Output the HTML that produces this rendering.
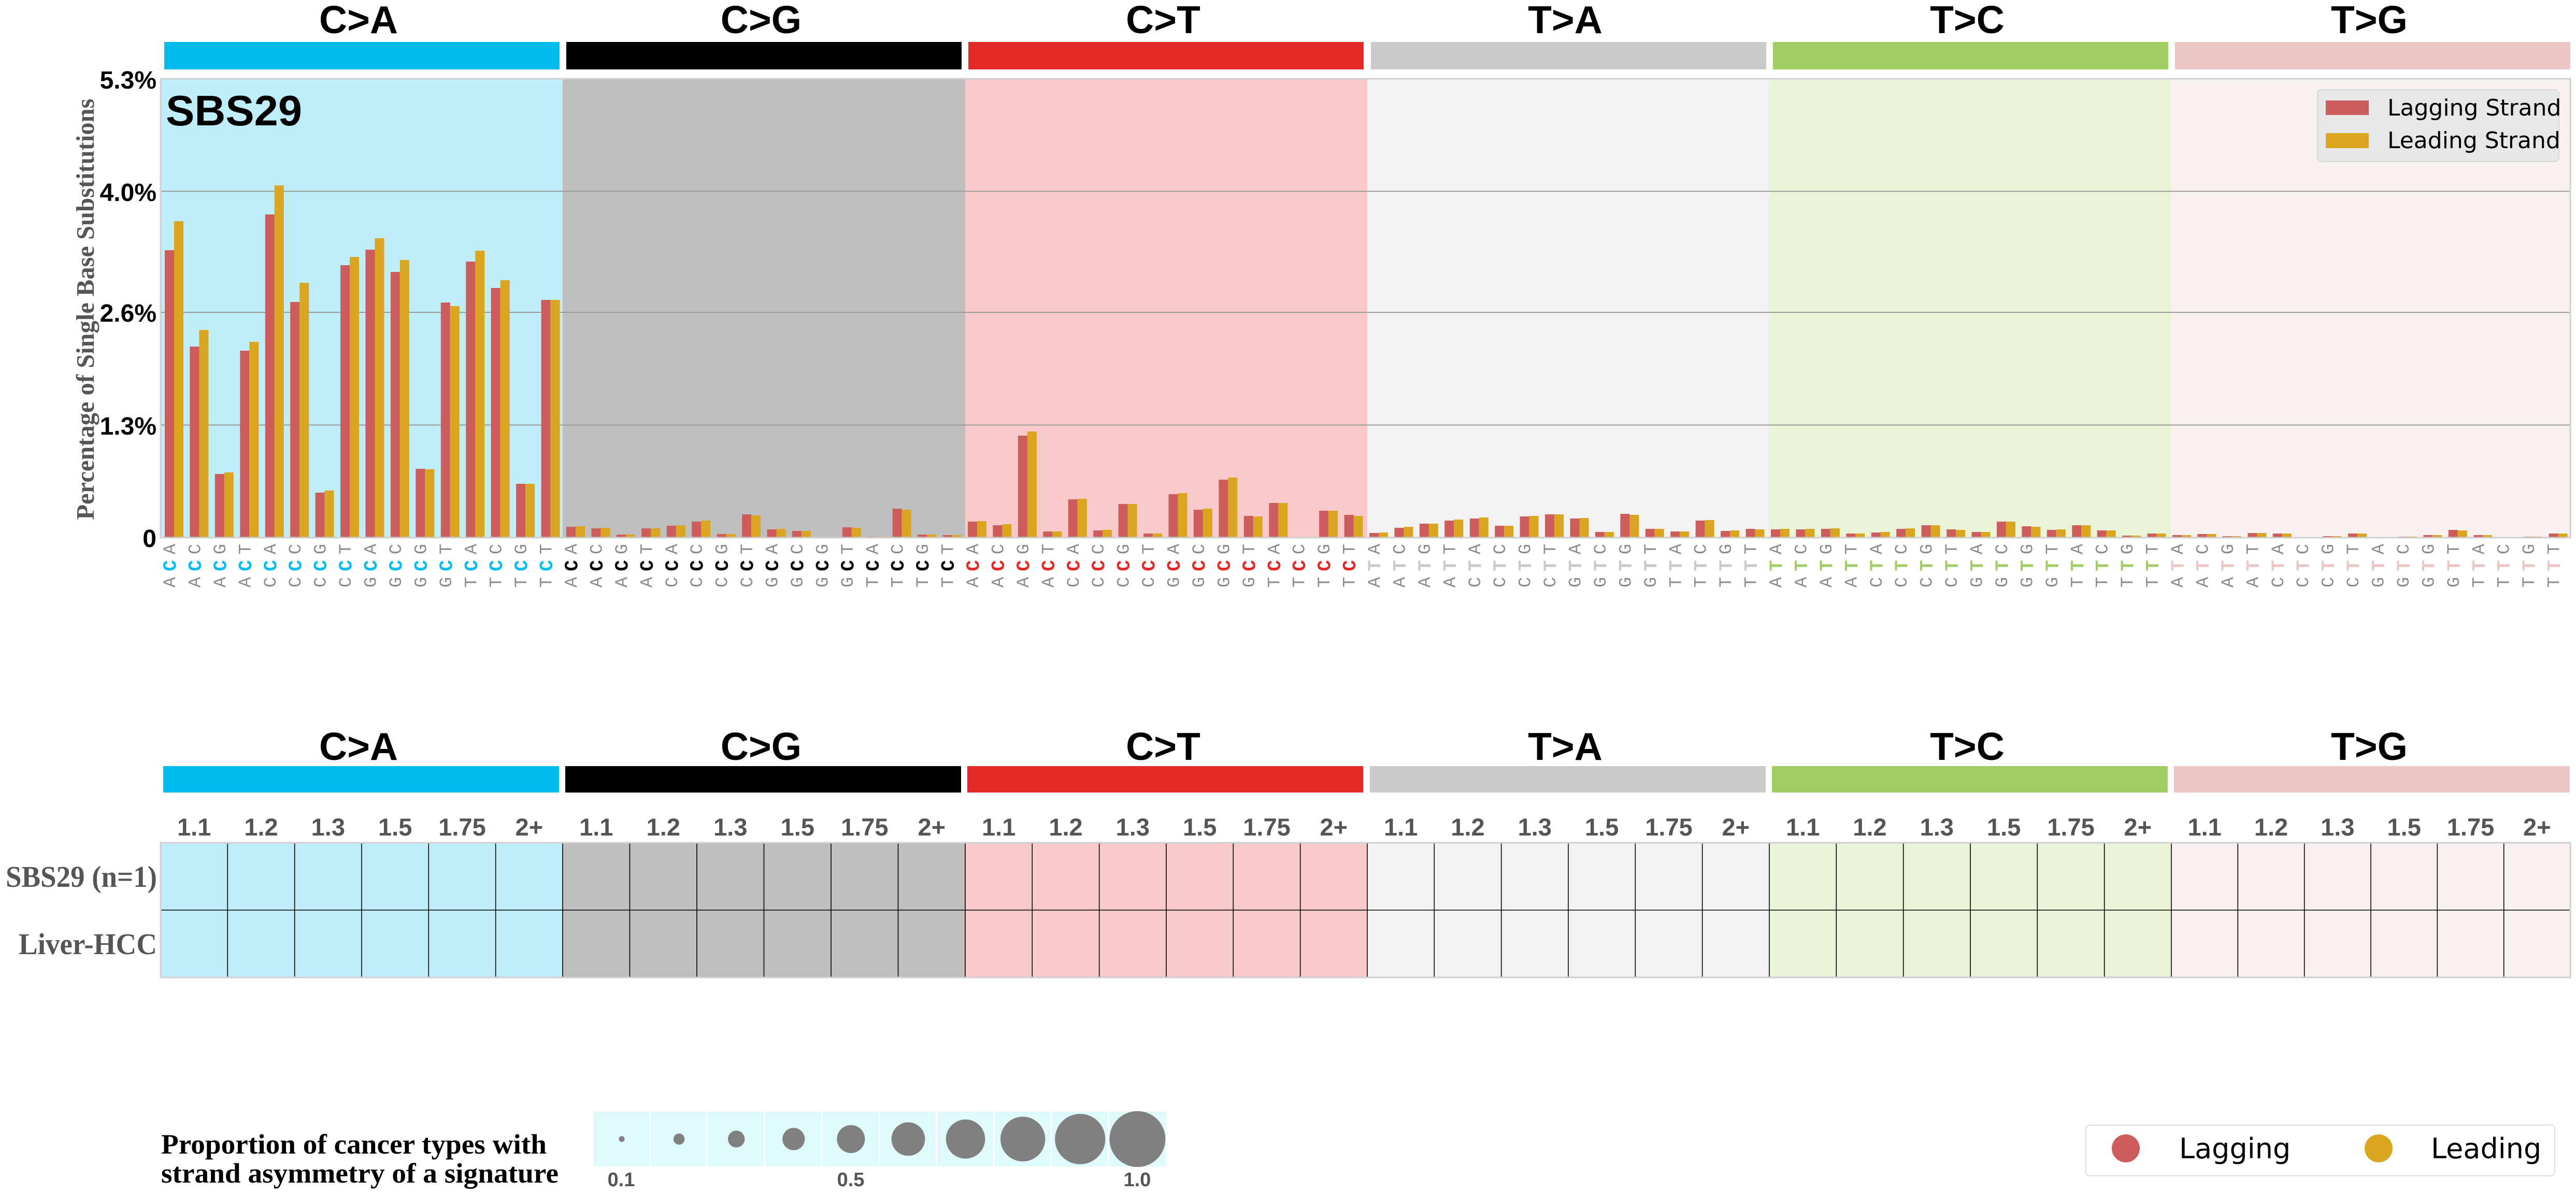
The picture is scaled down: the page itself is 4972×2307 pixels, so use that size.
<!DOCTYPE html>
<html><head><meta charset="utf-8"><style>
html,body{margin:0;padding:0;background:#fff;width:4972px;height:2307px;overflow:hidden}
svg{display:block}
.r{fill:#CD5C5C}.y{fill:#DAA520}
.o text{font-family:"Liberation Mono",monospace;font-size:34px;fill:#8c8c8c;text-anchor:middle;dominant-baseline:central}
.m text{font-family:"Liberation Mono",monospace;font-size:36px;font-weight:bold;text-anchor:middle;dominant-baseline:central}
.hd{font-family:"Liberation Sans",Arial,sans-serif;font-size:75px;font-weight:bold;fill:#000;text-anchor:middle}
.tk{font-family:"Liberation Sans",Arial,sans-serif;font-size:48px;font-weight:bold;fill:#000;text-anchor:end}
.nm{font-family:"Liberation Sans",Arial,sans-serif;font-size:47px;font-weight:bold;fill:#555;text-anchor:middle}
.dj{font-family:"DejaVu Sans",sans-serif;fill:#000}
.sf{font-family:"Liberation Serif","Times New Roman",serif;font-weight:bold}
.vl{stroke:#000;stroke-width:1.6}
</style></head><body>
<svg width="4972" height="2307" viewBox="0 0 4972 2307" xmlns="http://www.w3.org/2000/svg">
<rect x="0" y="0" width="4972" height="2307" fill="#fff"/>

<!-- top header labels and bars -->
<text class="hd" x="692" y="64">C&gt;A</text>
<text class="hd" x="1469" y="64">C&gt;G</text>
<text class="hd" x="2245" y="64">C&gt;T</text>
<text class="hd" x="3021" y="64">T&gt;A</text>
<text class="hd" x="3797" y="64">T&gt;C</text>
<text class="hd" x="4573" y="64">T&gt;G</text>
<rect x="317" y="81" width="763" height="53" fill="#03BCEE"/>
<rect x="1093" y="81" width="763" height="53" fill="#010101"/>
<rect x="1869" y="81" width="763" height="53" fill="#E32926"/>
<rect x="2646" y="81" width="763" height="53" fill="#CAC9C9"/>
<rect x="3422" y="81" width="763" height="53" fill="#A1CE63"/>
<rect x="4198" y="81" width="763" height="53" fill="#EBC6C4"/>

<!-- plot backgrounds -->
<rect x="310" y="152" width="776" height="885" fill="#BFEDF9"/>
<rect x="1086" y="152" width="777" height="885" fill="#BFBFBF"/>
<rect x="1863" y="152" width="776" height="885" fill="#F8C9C9"/>
<rect x="2639" y="152" width="776" height="885" fill="#F2F2F2"/>
<rect x="3415" y="152" width="776" height="885" fill="#E8F3D8"/>
<rect x="4191" y="152" width="770" height="885" fill="#F9F0F0"/>

<!-- gridlines -->
<line x1="310" y1="369.3" x2="4961" y2="369.3" stroke="#9a9a9a" stroke-width="2"/>
<line x1="310" y1="603" x2="4961" y2="603" stroke="#9a9a9a" stroke-width="2"/>
<line x1="310" y1="820.5" x2="4961" y2="820.5" stroke="#9a9a9a" stroke-width="2"/>

<!-- bars C>A -->
<g transform="translate(318,1037) scale(1,-1)">
<rect class="r" x="0" width="18" height="554"/><rect class="y" x="18" width="18" height="610"/>
<rect class="r" x="48.4" width="18" height="368"/><rect class="y" x="66.4" width="18" height="400"/>
<rect class="r" x="96.9" width="18" height="122"/><rect class="y" x="114.9" width="18" height="125"/>
<rect class="r" x="145.3" width="18" height="360"/><rect class="y" x="163.3" width="18" height="377"/>
<rect class="r" x="193.8" width="18" height="623"/><rect class="y" x="211.8" width="18" height="679"/>
<rect class="r" x="242.2" width="18" height="454"/><rect class="y" x="260.2" width="18" height="491"/>
<rect class="r" x="290.6" width="18" height="86"/><rect class="y" x="308.6" width="18" height="90"/>
<rect class="r" x="339.1" width="18" height="525"/><rect class="y" x="357.1" width="18" height="541"/>
<rect class="r" x="387.5" width="18" height="555"/><rect class="y" x="405.5" width="18" height="577"/>
<rect class="r" x="435.9" width="18" height="512"/><rect class="y" x="453.9" width="18" height="535"/>
<rect class="r" x="484.4" width="18" height="132"/><rect class="y" x="502.4" width="18" height="131"/>
<rect class="r" x="532.8" width="18" height="453"/><rect class="y" x="550.8" width="18" height="446"/>
<rect class="r" x="581.3" width="18" height="532"/><rect class="y" x="599.3" width="18" height="553"/>
<rect class="r" x="629.7" width="18" height="481"/><rect class="y" x="647.7" width="18" height="496"/>
<rect class="r" x="678.1" width="18" height="103"/><rect class="y" x="696.1" width="18" height="103"/>
<rect class="r" x="726.6" width="18" height="458"/><rect class="y" x="744.6" width="18" height="458"/>
</g>
<!-- bars C>G -->
<g transform="translate(1093,1037) scale(1,-1)">
<rect class="r" x="0" width="18" height="20"/><rect class="y" x="18" width="18" height="21"/>
<rect class="r" x="48.4" width="18" height="17"/><rect class="y" x="66.4" width="18" height="18"/>
<rect class="r" x="96.9" width="18" height="5"/><rect class="y" x="114.9" width="18" height="5"/>
<rect class="r" x="145.3" width="18" height="17"/><rect class="y" x="163.3" width="18" height="17"/>
<rect class="r" x="193.8" width="18" height="22"/><rect class="y" x="211.8" width="18" height="23"/>
<rect class="r" x="242.2" width="18" height="30"/><rect class="y" x="260.2" width="18" height="32"/>
<rect class="r" x="290.6" width="18" height="6"/><rect class="y" x="308.6" width="18" height="6"/>
<rect class="r" x="339.1" width="18" height="44"/><rect class="y" x="357.1" width="18" height="42"/>
<rect class="r" x="387.5" width="18" height="15"/><rect class="y" x="405.5" width="18" height="16"/>
<rect class="r" x="435.9" width="18" height="12"/><rect class="y" x="453.9" width="18" height="12"/>
<rect class="r" x="532.8" width="18" height="19"/><rect class="y" x="550.8" width="18" height="18"/>
<rect class="r" x="581.3" width="18" height="1"/><rect class="y" x="599.3" width="18" height="1"/>
<rect class="r" x="629.7" width="18" height="55"/><rect class="y" x="647.7" width="18" height="53"/>
<rect class="r" x="678.1" width="18" height="5"/><rect class="y" x="696.1" width="18" height="5"/>
<rect class="r" x="726.6" width="18" height="4"/><rect class="y" x="744.6" width="18" height="4"/>
</g>
<!-- bars C>T -->
<g transform="translate(1868,1037) scale(1,-1)">
<rect class="r" x="0" width="18" height="30"/><rect class="y" x="18" width="18" height="31"/>
<rect class="r" x="48.4" width="18" height="23"/><rect class="y" x="66.4" width="18" height="25"/>
<rect class="r" x="96.9" width="18" height="196"/><rect class="y" x="114.9" width="18" height="204"/>
<rect class="r" x="145.3" width="18" height="11"/><rect class="y" x="163.3" width="18" height="11"/>
<rect class="r" x="193.8" width="18" height="73"/><rect class="y" x="211.8" width="18" height="74"/>
<rect class="r" x="242.2" width="18" height="13"/><rect class="y" x="260.2" width="18" height="14"/>
<rect class="r" x="290.6" width="18" height="64"/><rect class="y" x="308.6" width="18" height="64"/>
<rect class="r" x="339.1" width="18" height="7"/><rect class="y" x="357.1" width="18" height="7"/>
<rect class="r" x="387.5" width="18" height="83"/><rect class="y" x="405.5" width="18" height="85"/>
<rect class="r" x="435.9" width="18" height="53"/><rect class="y" x="453.9" width="18" height="55"/>
<rect class="r" x="484.4" width="18" height="111"/><rect class="y" x="502.4" width="18" height="115"/>
<rect class="r" x="532.8" width="18" height="41"/><rect class="y" x="550.8" width="18" height="40"/>
<rect class="r" x="581.3" width="18" height="66"/><rect class="y" x="599.3" width="18" height="66"/>
<rect class="r" x="678.1" width="18" height="51"/><rect class="y" x="696.1" width="18" height="51"/>
<rect class="r" x="726.6" width="18" height="43"/><rect class="y" x="744.6" width="18" height="41"/>
</g>
<!-- bars T>A -->
<g transform="translate(2643,1037) scale(1,-1)">
<rect class="r" x="0" width="18" height="8"/><rect class="y" x="18" width="18" height="9"/>
<rect class="r" x="48.4" width="18" height="18"/><rect class="y" x="66.4" width="18" height="20"/>
<rect class="r" x="96.9" width="18" height="26"/><rect class="y" x="114.9" width="18" height="26"/>
<rect class="r" x="145.3" width="18" height="32"/><rect class="y" x="163.3" width="18" height="34"/>
<rect class="r" x="193.8" width="18" height="36"/><rect class="y" x="211.8" width="18" height="38"/>
<rect class="r" x="242.2" width="18" height="22"/><rect class="y" x="260.2" width="18" height="22"/>
<rect class="r" x="290.6" width="18" height="40"/><rect class="y" x="308.6" width="18" height="41"/>
<rect class="r" x="339.1" width="18" height="44"/><rect class="y" x="357.1" width="18" height="44"/>
<rect class="r" x="387.5" width="18" height="36"/><rect class="y" x="405.5" width="18" height="37"/>
<rect class="r" x="435.9" width="18" height="10"/><rect class="y" x="453.9" width="18" height="10"/>
<rect class="r" x="484.4" width="18" height="45"/><rect class="y" x="502.4" width="18" height="43"/>
<rect class="r" x="532.8" width="18" height="16"/><rect class="y" x="550.8" width="18" height="16"/>
<rect class="r" x="581.3" width="18" height="11"/><rect class="y" x="599.3" width="18" height="11"/>
<rect class="r" x="629.7" width="18" height="32"/><rect class="y" x="647.7" width="18" height="33"/>
<rect class="r" x="678.1" width="18" height="12"/><rect class="y" x="696.1" width="18" height="13"/>
<rect class="r" x="726.6" width="18" height="16"/><rect class="y" x="744.6" width="18" height="15"/>
</g>
<!-- bars T>C -->
<g transform="translate(3418,1037) scale(1,-1)">
<rect class="r" x="0" width="18" height="15"/><rect class="y" x="18" width="18" height="16"/>
<rect class="r" x="48.4" width="18" height="15"/><rect class="y" x="66.4" width="18" height="16"/>
<rect class="r" x="96.9" width="18" height="16"/><rect class="y" x="114.9" width="18" height="17"/>
<rect class="r" x="145.3" width="18" height="7"/><rect class="y" x="163.3" width="18" height="7"/>
<rect class="r" x="193.8" width="18" height="9"/><rect class="y" x="211.8" width="18" height="10"/>
<rect class="r" x="242.2" width="18" height="16"/><rect class="y" x="260.2" width="18" height="17"/>
<rect class="r" x="290.6" width="18" height="23"/><rect class="y" x="308.6" width="18" height="23"/>
<rect class="r" x="339.1" width="18" height="15"/><rect class="y" x="357.1" width="18" height="14"/>
<rect class="r" x="387.5" width="18" height="10"/><rect class="y" x="405.5" width="18" height="10"/>
<rect class="r" x="435.9" width="18" height="30"/><rect class="y" x="453.9" width="18" height="30"/>
<rect class="r" x="484.4" width="18" height="21"/><rect class="y" x="502.4" width="18" height="20"/>
<rect class="r" x="532.8" width="18" height="14"/><rect class="y" x="550.8" width="18" height="15"/>
<rect class="r" x="581.3" width="18" height="23"/><rect class="y" x="599.3" width="18" height="23"/>
<rect class="r" x="629.7" width="18" height="13"/><rect class="y" x="647.7" width="18" height="13"/>
<rect class="r" x="678.1" width="18" height="3"/><rect class="y" x="696.1" width="18" height="3"/>
<rect class="r" x="726.6" width="18" height="7"/><rect class="y" x="744.6" width="18" height="7"/>
</g>
<!-- bars T>G -->
<g transform="translate(4193,1037) scale(1,-1)">
<rect class="r" x="0" width="18" height="4"/><rect class="y" x="18" width="18" height="4"/>
<rect class="r" x="48.4" width="18" height="6"/><rect class="y" x="66.4" width="18" height="6"/>
<rect class="r" x="96.9" width="18" height="2"/><rect class="y" x="114.9" width="18" height="2"/>
<rect class="r" x="145.3" width="18" height="8"/><rect class="y" x="163.3" width="18" height="8"/>
<rect class="r" x="193.8" width="18" height="7"/><rect class="y" x="211.8" width="18" height="7"/>
<rect class="r" x="290.6" width="18" height="2"/><rect class="y" x="308.6" width="18" height="2"/>
<rect class="r" x="339.1" width="18" height="7"/><rect class="y" x="357.1" width="18" height="7"/>
<rect class="r" x="435.9" width="18" height="1"/><rect class="y" x="453.9" width="18" height="1"/>
<rect class="r" x="484.4" width="18" height="4"/><rect class="y" x="502.4" width="18" height="4"/>
<rect class="r" x="532.8" width="18" height="14"/><rect class="y" x="550.8" width="18" height="13"/>
<rect class="r" x="581.3" width="18" height="4"/><rect class="y" x="599.3" width="18" height="4"/>
<rect class="r" x="678.1" width="18" height="1"/><rect class="y" x="696.1" width="18" height="1"/>
<rect class="r" x="726.6" width="18" height="7"/><rect class="y" x="744.6" width="18" height="7"/>
</g>

<!-- plot border -->
<rect x="310" y="152" width="4651" height="886" fill="none" stroke="#cfcfcf" stroke-width="3"/>

<!-- SBS29 label -->
<text x="320" y="242" font-family="Liberation Sans, Arial, sans-serif" font-size="83" font-weight="bold" fill="#000">SBS29</text>

<!-- legend top right -->
<rect x="4473" y="173" width="466" height="139" rx="8" fill="#e8e7e7" stroke="#d8d8d8" stroke-width="2"/>
<rect x="4489" y="194" width="83" height="28" fill="#CD5C5C"/>
<rect x="4489" y="257" width="83" height="29" fill="#DAA520"/>
<text class="dj" x="4608" y="223" font-size="44">Lagging Strand</text>
<text class="dj" x="4608" y="286" font-size="44">Leading Strand</text>

<!-- y ticks -->
<text class="tk" x="302" y="171">5.3%</text>
<text class="tk" x="302" y="388">4.0%</text>
<text class="tk" x="302" y="621">2.6%</text>
<text class="tk" x="302" y="839">1.3%</text>
<text class="tk" x="302" y="1056">0</text>
<!-- y title -->
<text class="sf" transform="translate(181,597) rotate(-90)" text-anchor="middle" font-size="49" fill="#555" textLength="813" lengthAdjust="spacingAndGlyphs">Percentage of Single Base Substitutions</text>

<!-- x labels: top row = 3rd base, middle = mutated base, bottom = 1st base -->
<!-- C>A -->
<g class="o" transform="translate(318,1060)"><text transform="translate(12)rotate(-90)">A</text><text transform="translate(60.4)rotate(-90)">C</text><text transform="translate(108.9)rotate(-90)">G</text><text transform="translate(157.3)rotate(-90)">T</text><text transform="translate(205.8)rotate(-90)">A</text><text transform="translate(254.2)rotate(-90)">C</text><text transform="translate(302.6)rotate(-90)">G</text><text transform="translate(351.1)rotate(-90)">T</text><text transform="translate(399.5)rotate(-90)">A</text><text transform="translate(447.9)rotate(-90)">C</text><text transform="translate(496.4)rotate(-90)">G</text><text transform="translate(544.8)rotate(-90)">T</text><text transform="translate(593.3)rotate(-90)">A</text><text transform="translate(641.7)rotate(-90)">C</text><text transform="translate(690.1)rotate(-90)">G</text><text transform="translate(738.6)rotate(-90)">T</text></g>
<g class="m" fill="#03BCEE" transform="translate(318,1092)"><text transform="translate(12)rotate(-90)">C</text><text transform="translate(60.4)rotate(-90)">C</text><text transform="translate(108.9)rotate(-90)">C</text><text transform="translate(157.3)rotate(-90)">C</text><text transform="translate(205.8)rotate(-90)">C</text><text transform="translate(254.2)rotate(-90)">C</text><text transform="translate(302.6)rotate(-90)">C</text><text transform="translate(351.1)rotate(-90)">C</text><text transform="translate(399.5)rotate(-90)">C</text><text transform="translate(447.9)rotate(-90)">C</text><text transform="translate(496.4)rotate(-90)">C</text><text transform="translate(544.8)rotate(-90)">C</text><text transform="translate(593.3)rotate(-90)">C</text><text transform="translate(641.7)rotate(-90)">C</text><text transform="translate(690.1)rotate(-90)">C</text><text transform="translate(738.6)rotate(-90)">C</text></g>
<g class="o" transform="translate(318,1124)"><text transform="translate(12)rotate(-90)">A</text><text transform="translate(60.4)rotate(-90)">A</text><text transform="translate(108.9)rotate(-90)">A</text><text transform="translate(157.3)rotate(-90)">A</text><text transform="translate(205.8)rotate(-90)">C</text><text transform="translate(254.2)rotate(-90)">C</text><text transform="translate(302.6)rotate(-90)">C</text><text transform="translate(351.1)rotate(-90)">C</text><text transform="translate(399.5)rotate(-90)">G</text><text transform="translate(447.9)rotate(-90)">G</text><text transform="translate(496.4)rotate(-90)">G</text><text transform="translate(544.8)rotate(-90)">G</text><text transform="translate(593.3)rotate(-90)">T</text><text transform="translate(641.7)rotate(-90)">T</text><text transform="translate(690.1)rotate(-90)">T</text><text transform="translate(738.6)rotate(-90)">T</text></g>
<!-- C>G -->
<g class="o" transform="translate(1093,1060)"><text transform="translate(12)rotate(-90)">A</text><text transform="translate(60.4)rotate(-90)">C</text><text transform="translate(108.9)rotate(-90)">G</text><text transform="translate(157.3)rotate(-90)">T</text><text transform="translate(205.8)rotate(-90)">A</text><text transform="translate(254.2)rotate(-90)">C</text><text transform="translate(302.6)rotate(-90)">G</text><text transform="translate(351.1)rotate(-90)">T</text><text transform="translate(399.5)rotate(-90)">A</text><text transform="translate(447.9)rotate(-90)">C</text><text transform="translate(496.4)rotate(-90)">G</text><text transform="translate(544.8)rotate(-90)">T</text><text transform="translate(593.3)rotate(-90)">A</text><text transform="translate(641.7)rotate(-90)">C</text><text transform="translate(690.1)rotate(-90)">G</text><text transform="translate(738.6)rotate(-90)">T</text></g>
<g class="m" fill="#010101" transform="translate(1093,1092)"><text transform="translate(12)rotate(-90)">C</text><text transform="translate(60.4)rotate(-90)">C</text><text transform="translate(108.9)rotate(-90)">C</text><text transform="translate(157.3)rotate(-90)">C</text><text transform="translate(205.8)rotate(-90)">C</text><text transform="translate(254.2)rotate(-90)">C</text><text transform="translate(302.6)rotate(-90)">C</text><text transform="translate(351.1)rotate(-90)">C</text><text transform="translate(399.5)rotate(-90)">C</text><text transform="translate(447.9)rotate(-90)">C</text><text transform="translate(496.4)rotate(-90)">C</text><text transform="translate(544.8)rotate(-90)">C</text><text transform="translate(593.3)rotate(-90)">C</text><text transform="translate(641.7)rotate(-90)">C</text><text transform="translate(690.1)rotate(-90)">C</text><text transform="translate(738.6)rotate(-90)">C</text></g>
<g class="o" transform="translate(1093,1124)"><text transform="translate(12)rotate(-90)">A</text><text transform="translate(60.4)rotate(-90)">A</text><text transform="translate(108.9)rotate(-90)">A</text><text transform="translate(157.3)rotate(-90)">A</text><text transform="translate(205.8)rotate(-90)">C</text><text transform="translate(254.2)rotate(-90)">C</text><text transform="translate(302.6)rotate(-90)">C</text><text transform="translate(351.1)rotate(-90)">C</text><text transform="translate(399.5)rotate(-90)">G</text><text transform="translate(447.9)rotate(-90)">G</text><text transform="translate(496.4)rotate(-90)">G</text><text transform="translate(544.8)rotate(-90)">G</text><text transform="translate(593.3)rotate(-90)">T</text><text transform="translate(641.7)rotate(-90)">T</text><text transform="translate(690.1)rotate(-90)">T</text><text transform="translate(738.6)rotate(-90)">T</text></g>
<!-- C>T -->
<g class="o" transform="translate(1868,1060)"><text transform="translate(12)rotate(-90)">A</text><text transform="translate(60.4)rotate(-90)">C</text><text transform="translate(108.9)rotate(-90)">G</text><text transform="translate(157.3)rotate(-90)">T</text><text transform="translate(205.8)rotate(-90)">A</text><text transform="translate(254.2)rotate(-90)">C</text><text transform="translate(302.6)rotate(-90)">G</text><text transform="translate(351.1)rotate(-90)">T</text><text transform="translate(399.5)rotate(-90)">A</text><text transform="translate(447.9)rotate(-90)">C</text><text transform="translate(496.4)rotate(-90)">G</text><text transform="translate(544.8)rotate(-90)">T</text><text transform="translate(593.3)rotate(-90)">A</text><text transform="translate(641.7)rotate(-90)">C</text><text transform="translate(690.1)rotate(-90)">G</text><text transform="translate(738.6)rotate(-90)">T</text></g>
<g class="m" fill="#E32926" transform="translate(1868,1092)"><text transform="translate(12)rotate(-90)">C</text><text transform="translate(60.4)rotate(-90)">C</text><text transform="translate(108.9)rotate(-90)">C</text><text transform="translate(157.3)rotate(-90)">C</text><text transform="translate(205.8)rotate(-90)">C</text><text transform="translate(254.2)rotate(-90)">C</text><text transform="translate(302.6)rotate(-90)">C</text><text transform="translate(351.1)rotate(-90)">C</text><text transform="translate(399.5)rotate(-90)">C</text><text transform="translate(447.9)rotate(-90)">C</text><text transform="translate(496.4)rotate(-90)">C</text><text transform="translate(544.8)rotate(-90)">C</text><text transform="translate(593.3)rotate(-90)">C</text><text transform="translate(641.7)rotate(-90)">C</text><text transform="translate(690.1)rotate(-90)">C</text><text transform="translate(738.6)rotate(-90)">C</text></g>
<g class="o" transform="translate(1868,1124)"><text transform="translate(12)rotate(-90)">A</text><text transform="translate(60.4)rotate(-90)">A</text><text transform="translate(108.9)rotate(-90)">A</text><text transform="translate(157.3)rotate(-90)">A</text><text transform="translate(205.8)rotate(-90)">C</text><text transform="translate(254.2)rotate(-90)">C</text><text transform="translate(302.6)rotate(-90)">C</text><text transform="translate(351.1)rotate(-90)">C</text><text transform="translate(399.5)rotate(-90)">G</text><text transform="translate(447.9)rotate(-90)">G</text><text transform="translate(496.4)rotate(-90)">G</text><text transform="translate(544.8)rotate(-90)">G</text><text transform="translate(593.3)rotate(-90)">T</text><text transform="translate(641.7)rotate(-90)">T</text><text transform="translate(690.1)rotate(-90)">T</text><text transform="translate(738.6)rotate(-90)">T</text></g>
<!-- T>A -->
<g class="o" transform="translate(2643,1060)"><text transform="translate(12)rotate(-90)">A</text><text transform="translate(60.4)rotate(-90)">C</text><text transform="translate(108.9)rotate(-90)">G</text><text transform="translate(157.3)rotate(-90)">T</text><text transform="translate(205.8)rotate(-90)">A</text><text transform="translate(254.2)rotate(-90)">C</text><text transform="translate(302.6)rotate(-90)">G</text><text transform="translate(351.1)rotate(-90)">T</text><text transform="translate(399.5)rotate(-90)">A</text><text transform="translate(447.9)rotate(-90)">C</text><text transform="translate(496.4)rotate(-90)">G</text><text transform="translate(544.8)rotate(-90)">T</text><text transform="translate(593.3)rotate(-90)">A</text><text transform="translate(641.7)rotate(-90)">C</text><text transform="translate(690.1)rotate(-90)">G</text><text transform="translate(738.6)rotate(-90)">T</text></g>
<g class="m" fill="#CAC9C9" transform="translate(2643,1092)"><text transform="translate(12)rotate(-90)">T</text><text transform="translate(60.4)rotate(-90)">T</text><text transform="translate(108.9)rotate(-90)">T</text><text transform="translate(157.3)rotate(-90)">T</text><text transform="translate(205.8)rotate(-90)">T</text><text transform="translate(254.2)rotate(-90)">T</text><text transform="translate(302.6)rotate(-90)">T</text><text transform="translate(351.1)rotate(-90)">T</text><text transform="translate(399.5)rotate(-90)">T</text><text transform="translate(447.9)rotate(-90)">T</text><text transform="translate(496.4)rotate(-90)">T</text><text transform="translate(544.8)rotate(-90)">T</text><text transform="translate(593.3)rotate(-90)">T</text><text transform="translate(641.7)rotate(-90)">T</text><text transform="translate(690.1)rotate(-90)">T</text><text transform="translate(738.6)rotate(-90)">T</text></g>
<g class="o" transform="translate(2643,1124)"><text transform="translate(12)rotate(-90)">A</text><text transform="translate(60.4)rotate(-90)">A</text><text transform="translate(108.9)rotate(-90)">A</text><text transform="translate(157.3)rotate(-90)">A</text><text transform="translate(205.8)rotate(-90)">C</text><text transform="translate(254.2)rotate(-90)">C</text><text transform="translate(302.6)rotate(-90)">C</text><text transform="translate(351.1)rotate(-90)">C</text><text transform="translate(399.5)rotate(-90)">G</text><text transform="translate(447.9)rotate(-90)">G</text><text transform="translate(496.4)rotate(-90)">G</text><text transform="translate(544.8)rotate(-90)">G</text><text transform="translate(593.3)rotate(-90)">T</text><text transform="translate(641.7)rotate(-90)">T</text><text transform="translate(690.1)rotate(-90)">T</text><text transform="translate(738.6)rotate(-90)">T</text></g>
<!-- T>C -->
<g class="o" transform="translate(3418,1060)"><text transform="translate(12)rotate(-90)">A</text><text transform="translate(60.4)rotate(-90)">C</text><text transform="translate(108.9)rotate(-90)">G</text><text transform="translate(157.3)rotate(-90)">T</text><text transform="translate(205.8)rotate(-90)">A</text><text transform="translate(254.2)rotate(-90)">C</text><text transform="translate(302.6)rotate(-90)">G</text><text transform="translate(351.1)rotate(-90)">T</text><text transform="translate(399.5)rotate(-90)">A</text><text transform="translate(447.9)rotate(-90)">C</text><text transform="translate(496.4)rotate(-90)">G</text><text transform="translate(544.8)rotate(-90)">T</text><text transform="translate(593.3)rotate(-90)">A</text><text transform="translate(641.7)rotate(-90)">C</text><text transform="translate(690.1)rotate(-90)">G</text><text transform="translate(738.6)rotate(-90)">T</text></g>
<g class="m" fill="#A1CE63" transform="translate(3418,1092)"><text transform="translate(12)rotate(-90)">T</text><text transform="translate(60.4)rotate(-90)">T</text><text transform="translate(108.9)rotate(-90)">T</text><text transform="translate(157.3)rotate(-90)">T</text><text transform="translate(205.8)rotate(-90)">T</text><text transform="translate(254.2)rotate(-90)">T</text><text transform="translate(302.6)rotate(-90)">T</text><text transform="translate(351.1)rotate(-90)">T</text><text transform="translate(399.5)rotate(-90)">T</text><text transform="translate(447.9)rotate(-90)">T</text><text transform="translate(496.4)rotate(-90)">T</text><text transform="translate(544.8)rotate(-90)">T</text><text transform="translate(593.3)rotate(-90)">T</text><text transform="translate(641.7)rotate(-90)">T</text><text transform="translate(690.1)rotate(-90)">T</text><text transform="translate(738.6)rotate(-90)">T</text></g>
<g class="o" transform="translate(3418,1124)"><text transform="translate(12)rotate(-90)">A</text><text transform="translate(60.4)rotate(-90)">A</text><text transform="translate(108.9)rotate(-90)">A</text><text transform="translate(157.3)rotate(-90)">A</text><text transform="translate(205.8)rotate(-90)">C</text><text transform="translate(254.2)rotate(-90)">C</text><text transform="translate(302.6)rotate(-90)">C</text><text transform="translate(351.1)rotate(-90)">C</text><text transform="translate(399.5)rotate(-90)">G</text><text transform="translate(447.9)rotate(-90)">G</text><text transform="translate(496.4)rotate(-90)">G</text><text transform="translate(544.8)rotate(-90)">G</text><text transform="translate(593.3)rotate(-90)">T</text><text transform="translate(641.7)rotate(-90)">T</text><text transform="translate(690.1)rotate(-90)">T</text><text transform="translate(738.6)rotate(-90)">T</text></g>
<!-- T>G -->
<g class="o" transform="translate(4193,1060)"><text transform="translate(12)rotate(-90)">A</text><text transform="translate(60.4)rotate(-90)">C</text><text transform="translate(108.9)rotate(-90)">G</text><text transform="translate(157.3)rotate(-90)">T</text><text transform="translate(205.8)rotate(-90)">A</text><text transform="translate(254.2)rotate(-90)">C</text><text transform="translate(302.6)rotate(-90)">G</text><text transform="translate(351.1)rotate(-90)">T</text><text transform="translate(399.5)rotate(-90)">A</text><text transform="translate(447.9)rotate(-90)">C</text><text transform="translate(496.4)rotate(-90)">G</text><text transform="translate(544.8)rotate(-90)">T</text><text transform="translate(593.3)rotate(-90)">A</text><text transform="translate(641.7)rotate(-90)">C</text><text transform="translate(690.1)rotate(-90)">G</text><text transform="translate(738.6)rotate(-90)">T</text></g>
<g class="m" fill="#EBC6C4" transform="translate(4193,1092)"><text transform="translate(12)rotate(-90)">T</text><text transform="translate(60.4)rotate(-90)">T</text><text transform="translate(108.9)rotate(-90)">T</text><text transform="translate(157.3)rotate(-90)">T</text><text transform="translate(205.8)rotate(-90)">T</text><text transform="translate(254.2)rotate(-90)">T</text><text transform="translate(302.6)rotate(-90)">T</text><text transform="translate(351.1)rotate(-90)">T</text><text transform="translate(399.5)rotate(-90)">T</text><text transform="translate(447.9)rotate(-90)">T</text><text transform="translate(496.4)rotate(-90)">T</text><text transform="translate(544.8)rotate(-90)">T</text><text transform="translate(593.3)rotate(-90)">T</text><text transform="translate(641.7)rotate(-90)">T</text><text transform="translate(690.1)rotate(-90)">T</text><text transform="translate(738.6)rotate(-90)">T</text></g>
<g class="o" transform="translate(4193,1124)"><text transform="translate(12)rotate(-90)">A</text><text transform="translate(60.4)rotate(-90)">A</text><text transform="translate(108.9)rotate(-90)">A</text><text transform="translate(157.3)rotate(-90)">A</text><text transform="translate(205.8)rotate(-90)">C</text><text transform="translate(254.2)rotate(-90)">C</text><text transform="translate(302.6)rotate(-90)">C</text><text transform="translate(351.1)rotate(-90)">C</text><text transform="translate(399.5)rotate(-90)">G</text><text transform="translate(447.9)rotate(-90)">G</text><text transform="translate(496.4)rotate(-90)">G</text><text transform="translate(544.8)rotate(-90)">G</text><text transform="translate(593.3)rotate(-90)">T</text><text transform="translate(641.7)rotate(-90)">T</text><text transform="translate(690.1)rotate(-90)">T</text><text transform="translate(738.6)rotate(-90)">T</text></g>

<!-- bottom section header -->
<text class="hd" x="692" y="1467">C&gt;A</text>
<text class="hd" x="1469" y="1467">C&gt;G</text>
<text class="hd" x="2245" y="1467">C&gt;T</text>
<text class="hd" x="3021" y="1467">T&gt;A</text>
<text class="hd" x="3797" y="1467">T&gt;C</text>
<text class="hd" x="4573" y="1467">T&gt;G</text>
<rect x="315" y="1479" width="764" height="51" fill="#03BCEE"/>
<rect x="1091" y="1479" width="764" height="51" fill="#010101"/>
<rect x="1867" y="1479" width="764" height="51" fill="#E32926"/>
<rect x="2644" y="1479" width="764" height="51" fill="#CAC9C9"/>
<rect x="3420" y="1479" width="764" height="51" fill="#A1CE63"/>
<rect x="4196" y="1479" width="764" height="51" fill="#EBC6C4"/>

<!-- column numbers -->
<g>
<text class="nm" x="374.7" y="1613">1.1</text><text class="nm" x="504" y="1613">1.2</text><text class="nm" x="633.3" y="1613">1.3</text><text class="nm" x="762.7" y="1613">1.5</text><text class="nm" x="892" y="1613">1.75</text><text class="nm" x="1021.3" y="1613">2+</text>
<text class="nm" x="1150.8" y="1613">1.1</text><text class="nm" x="1280.3" y="1613">1.2</text><text class="nm" x="1409.8" y="1613">1.3</text><text class="nm" x="1539.3" y="1613">1.5</text><text class="nm" x="1668.8" y="1613">1.75</text><text class="nm" x="1798.3" y="1613">2+</text>
<text class="nm" x="1927.7" y="1613">1.1</text><text class="nm" x="2057" y="1613">1.2</text><text class="nm" x="2186.3" y="1613">1.3</text><text class="nm" x="2315.7" y="1613">1.5</text><text class="nm" x="2445" y="1613">1.75</text><text class="nm" x="2574.3" y="1613">2+</text>
<text class="nm" x="2703.7" y="1613">1.1</text><text class="nm" x="2833" y="1613">1.2</text><text class="nm" x="2962.3" y="1613">1.3</text><text class="nm" x="3091.7" y="1613">1.5</text><text class="nm" x="3221" y="1613">1.75</text><text class="nm" x="3350.3" y="1613">2+</text>
<text class="nm" x="3479.7" y="1613">1.1</text><text class="nm" x="3609" y="1613">1.2</text><text class="nm" x="3738.3" y="1613">1.3</text><text class="nm" x="3867.7" y="1613">1.5</text><text class="nm" x="3997" y="1613">1.75</text><text class="nm" x="4126.3" y="1613">2+</text>
<text class="nm" x="4255.2" y="1613">1.1</text><text class="nm" x="4383.5" y="1613">1.2</text><text class="nm" x="4511.8" y="1613">1.3</text><text class="nm" x="4640.2" y="1613">1.5</text><text class="nm" x="4768.5" y="1613">1.75</text><text class="nm" x="4896.8" y="1613">2+</text>
</g>

<!-- table -->
<rect x="310" y="1627" width="776" height="260" fill="#BFEDF9"/>
<rect x="1086" y="1627" width="777" height="260" fill="#BFBFBF"/>
<rect x="1863" y="1627" width="776" height="260" fill="#F8C9C9"/>
<rect x="2639" y="1627" width="776" height="260" fill="#F2F2F2"/>
<rect x="3415" y="1627" width="776" height="260" fill="#E8F3D8"/>
<rect x="4191" y="1627" width="770" height="260" fill="#F9F0F0"/>
<g class="vl">
<line x1="439.3" y1="1627" x2="439.3" y2="1887"/><line x1="568.7" y1="1627" x2="568.7" y2="1887"/><line x1="698" y1="1627" x2="698" y2="1887"/><line x1="827.3" y1="1627" x2="827.3" y2="1887"/><line x1="956.7" y1="1627" x2="956.7" y2="1887"/><line x1="1086" y1="1627" x2="1086" y2="1887"/>
<line x1="1215.5" y1="1627" x2="1215.5" y2="1887"/><line x1="1345" y1="1627" x2="1345" y2="1887"/><line x1="1474.5" y1="1627" x2="1474.5" y2="1887"/><line x1="1604" y1="1627" x2="1604" y2="1887"/><line x1="1733.5" y1="1627" x2="1733.5" y2="1887"/><line x1="1863" y1="1627" x2="1863" y2="1887"/>
<line x1="1992.3" y1="1627" x2="1992.3" y2="1887"/><line x1="2121.7" y1="1627" x2="2121.7" y2="1887"/><line x1="2251" y1="1627" x2="2251" y2="1887"/><line x1="2380.3" y1="1627" x2="2380.3" y2="1887"/><line x1="2509.7" y1="1627" x2="2509.7" y2="1887"/><line x1="2639" y1="1627" x2="2639" y2="1887"/>
<line x1="2768.3" y1="1627" x2="2768.3" y2="1887"/><line x1="2897.7" y1="1627" x2="2897.7" y2="1887"/><line x1="3027" y1="1627" x2="3027" y2="1887"/><line x1="3156.3" y1="1627" x2="3156.3" y2="1887"/><line x1="3285.7" y1="1627" x2="3285.7" y2="1887"/><line x1="3415" y1="1627" x2="3415" y2="1887"/>
<line x1="3544.3" y1="1627" x2="3544.3" y2="1887"/><line x1="3673.7" y1="1627" x2="3673.7" y2="1887"/><line x1="3803" y1="1627" x2="3803" y2="1887"/><line x1="3932.3" y1="1627" x2="3932.3" y2="1887"/><line x1="4061.7" y1="1627" x2="4061.7" y2="1887"/><line x1="4191" y1="1627" x2="4191" y2="1887"/>
<line x1="4319.3" y1="1627" x2="4319.3" y2="1887"/><line x1="4447.7" y1="1627" x2="4447.7" y2="1887"/><line x1="4576" y1="1627" x2="4576" y2="1887"/><line x1="4704.3" y1="1627" x2="4704.3" y2="1887"/><line x1="4832.7" y1="1627" x2="4832.7" y2="1887"/>
<line x1="310" y1="1757" x2="4961" y2="1757"/>
</g>
<rect x="310" y="1627" width="4651" height="260" fill="none" stroke="#cfcfcf" stroke-width="3"/>
<text class="sf" x="303" y="1712" text-anchor="end" font-size="58" fill="#555" textLength="292" lengthAdjust="spacingAndGlyphs">SBS29 (n=1)</text>
<text class="sf" x="303" y="1842" text-anchor="end" font-size="58" fill="#555" textLength="267" lengthAdjust="spacingAndGlyphs">Liver-HCC</text>

<!-- bottom-left legend -->
<text class="sf" x="311" y="2227" font-size="54" fill="#000" textLength="744" lengthAdjust="spacingAndGlyphs">Proportion of cancer types with</text>
<text class="sf" x="311" y="2283" font-size="54" fill="#000" textLength="767" lengthAdjust="spacingAndGlyphs">strand asymmetry of a signature</text>
<g fill="#DFFAFB">
<rect x="1145" y="2146" width="108" height="106"/><rect x="1255.6" y="2146" width="108" height="106"/><rect x="1366.2" y="2146" width="108" height="106"/><rect x="1476.8" y="2146" width="108" height="106"/><rect x="1587.4" y="2146" width="108" height="106"/><rect x="1698" y="2146" width="108" height="106"/><rect x="1808.6" y="2146" width="108" height="106"/><rect x="1919.2" y="2146" width="108" height="106"/><rect x="2029.8" y="2146" width="108" height="106"/><rect x="2140.4" y="2146" width="110" height="106"/>
</g>
<g fill="#808080">
<circle cx="1200" cy="2199" r="5.6"/><circle cx="1310.6" cy="2199" r="10.8"/><circle cx="1421.2" cy="2199" r="16.2"/><circle cx="1531.8" cy="2199" r="21.6"/><circle cx="1642.4" cy="2199" r="27"/><circle cx="1753" cy="2199" r="32.4"/><circle cx="1863.6" cy="2199" r="37.8"/><circle cx="1974.2" cy="2199" r="43.2"/><circle cx="2084.8" cy="2199" r="48.6"/><circle cx="2195.4" cy="2199" r="54"/>
</g>
<text x="1199" y="2290" text-anchor="middle" font-family="Liberation Sans, Arial, sans-serif" font-size="38" font-weight="bold" fill="#555">0.1</text>
<text x="1642" y="2290" text-anchor="middle" font-family="Liberation Sans, Arial, sans-serif" font-size="38" font-weight="bold" fill="#555">0.5</text>
<text x="2195" y="2290" text-anchor="middle" font-family="Liberation Sans, Arial, sans-serif" font-size="38" font-weight="bold" fill="#555">1.0</text>

<!-- bottom-right legend -->
<rect x="4026" y="2172" width="905" height="98" rx="8" fill="#fff" stroke="#dcdcdc" stroke-width="2"/>
<circle cx="4103" cy="2217" r="27" fill="#CD5C5C"/>
<circle cx="4591" cy="2217" r="27" fill="#DAA520"/>
<text class="dj" x="4206" y="2236" font-size="54">Lagging</text>
<text class="dj" x="4692" y="2236" font-size="54">Leading</text>
</svg>
</body></html>
